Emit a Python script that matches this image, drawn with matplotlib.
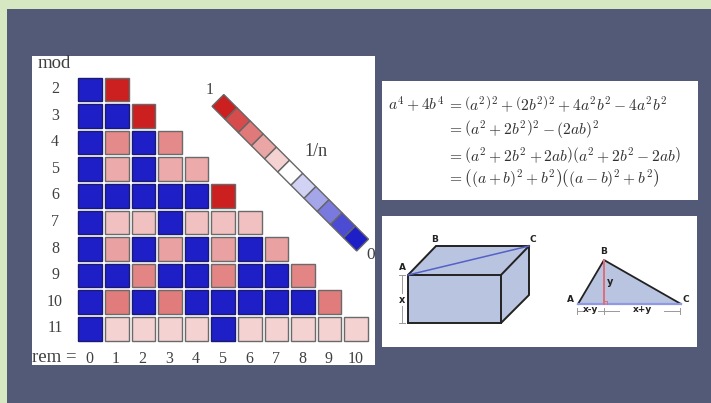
import matplotlib
matplotlib.use("Agg")
import matplotlib.pyplot as plt
from matplotlib.colors import LinearSegmentedColormap
from matplotlib.patches import Rectangle, Polygon

# colour level per remainder, one row per modulus (0 blue, .5 white, 1 red)
moduli = [2, 3, 4, 5, 6, 7, 8, 9, 10, 11]
levels = [
    [0.0, 1.0],
    [0.0, 0.0, 1.0],
    [0.0, .76, 0.0, .76],
    [0.0, .69, 0.0, .69, .69],
    [0.0, 0.0, 0.0, 0.0, 0.0, 1.0],
    [0.0, .64, .64, 0.0, .64, .64, .64],
    [0.0, .71, 0.0, .71, 0.0, .71, 0.0, .71],
    [0.0, 0.0, .77, 0.0, 0.0, .77, 0.0, 0.0, .77],
    [0.0, .79, 0.0, .79, 0.0, 0.0, 0.0, 0.0, 0.0, .79],
    [0.0, .6, .6, .6, .6, 0.0, .6, .6, .6, .6, .6],
]
rem_labels = ["0", "1", "2", "3", "4", "5", "6", "7", "8", "9", "10"]
scale_levels = [1.0, .9, .8, .7, .6, .5, .4, .3, .2, .1, 0.0]

equation_left = r"$a^4+4b^4$"
equation_lines = [
    r"$=\left(a^2\right)^2+\left(2b^2\right)^2+4a^2b^2-4a^2b^2$",
    r"$=\left(a^2+2b^2\right)^2-(2ab)^2$",
    r"$=\left(a^2+2b^2+2ab\right)\left(a^2+2b^2-2ab\right)$",
    r"$=\left((a+b)^2+b^2\right)\left((a-b)^2+b^2\right)$",
]

GREEN = "#d6e8c2"
SLATE = "#535a78"
FILL = "#b9c4e0"
INK = "#222222"
SERIF = "Liberation Serif"

cmap = LinearSegmentedColormap.from_list("rem", ["#1f1fc8", "#ffffff", "#cc1f1f"])

plt.rcParams["mathtext.fontset"] = "cm"

fig = plt.figure(figsize=(7.11, 4.03), dpi=100, facecolor=GREEN)
ax = fig.add_axes([0, 0, 1, 1])
ax.set_xlim(0, 711)
ax.set_ylim(403, 0)
ax.axis("off")

ax.add_patch(Rectangle((7, 9), 704, 394, fc=SLATE, ec="none"))
panel = Rectangle((32, 56), 343, 309, fc="white", ec="none", zorder=1)
ax.add_patch(panel)
ax.add_patch(Rectangle((382, 81), 316, 119, fc="white", ec="none", zorder=1))
ax.add_patch(Rectangle((382, 216), 315, 131, fc="white", ec="none", zorder=1))


def label(x, y, s, size=11.5, color="#404040", ha="center", **kw):
    t = ax.text(x, y, s, fontsize=size, color=color, ha=ha, va="center",
                family=SERIF, zorder=5, **kw)
    t.set_clip_path(panel)
    return t


# ── Remainder grid ────────────────────────────────────────────────────────────
PITCH = 26.6
SIDE = 23.6
for r, (mod, row) in enumerate(zip(moduli, levels)):
    y = 77.5 + r * PITCH
    label(55, y + 11.5, str(mod))
    for c, v in enumerate(row):
        edge = "#1a1a70" if v == 0.0 else "#6a6a6a"
        ax.add_patch(Rectangle((78.3 + c * PITCH, y), SIDE, SIDE, fc=cmap(v),
                               ec=edge, lw=1.0, zorder=3))

label(54, 63, "mod", size=13.5)
label(32, 358, "rem =", size=13.5, ha="left")
for c, s in enumerate(rem_labels):
    label(89.5 + c * PITCH, 359, s)

# ── Diagonal colour scale ─────────────────────────────────────────────────────
STEP = 13.15
WIDE = 5.9
for i, v in enumerate(scale_levels):
    cx, cy = 224.5 + i * STEP, 107 + i * STEP
    a = STEP / 2
    ax.add_patch(Polygon([(cx - a - WIDE, cy - a + WIDE), (cx - a + WIDE, cy - a - WIDE),
                          (cx + a + WIDE, cy + a - WIDE), (cx + a - WIDE, cy + a + WIDE)],
                         closed=True, fc=cmap(v), ec="#666666", lw=1.0, zorder=3))
label(210, 90, "1")
label(316, 152, "1/n", size=13)
label(371, 255, "0", size=12.5)

# ── Algebra ───────────────────────────────────────────────────────────────────
EQ_SIZE = 11.2
ax.text(388, 104, equation_left, fontsize=EQ_SIZE, color="#303030", va="center", zorder=5)
for y, s in zip([104, 129.5, 155, 178], equation_lines):
    ax.text(447, y, s, fontsize=EQ_SIZE, color="#303030", va="center", zorder=5)


def tag(x, y, s, size=6.5):
    ax.text(x, y, s, fontsize=size, color=INK, ha="center", va="center",
            family="DejaVu Sans", fontweight="bold", zorder=6)


# ── Box ───────────────────────────────────────────────────────────────────────
ax.add_patch(Polygon([(408, 275), (436, 246), (529, 246), (529, 295), (501, 323), (408, 323)],
                     closed=True, fc=FILL, ec=INK, lw=1.4, zorder=3))
ax.plot([408, 501, 529], [275, 275, 246], color=INK, lw=1.4, zorder=4)
ax.plot([501, 501], [275, 323], color=INK, lw=1.4, zorder=4)
ax.plot([408, 529], [275, 246], color="#5560c8", lw=1.1, zorder=5)
ax.plot([398.5, 404.5], [275, 275], color="#999999", lw=0.7, zorder=4)
ax.plot([398.5, 404.5], [322.5, 322.5], color="#999999", lw=0.7, zorder=4)
ax.plot([401.5, 401.5], [275, 293], color="#999999", lw=0.7, zorder=4)
ax.plot([401.5, 401.5], [306, 322.5], color="#999999", lw=0.7, zorder=4)
tag(402, 268, "A")
tag(434.5, 239, "B")
tag(533, 240, "C")
tag(401.5, 300, "x", 7)

# ── Triangle ──────────────────────────────────────────────────────────────────
ax.add_patch(Polygon([(578, 304), (604, 260), (681, 304)], closed=True, fc=FILL, ec="none", zorder=3))
ax.plot([578, 604, 681], [304, 260, 304], color=INK, lw=1.3, zorder=4)
ax.plot([578, 681], [304, 304], color="#8f9ae4", lw=1.6, zorder=4)
ax.plot([604, 604], [260, 304], color="#e06c78", lw=1.4, zorder=5)
ax.plot([604, 607, 607], [301, 301, 304], color="#e06c78", lw=0.7, zorder=5)
for x0, x1 in [(577, 584), (598, 619), (664, 680)]:
    ax.plot([x0, x1], [311, 311], color="#999999", lw=0.7, zorder=4)
for x in [577, 604, 680]:
    ax.plot([x, x], [308, 314], color="#999999", lw=0.7, zorder=4)
tag(570, 299, "A")
tag(604, 252, "B")
tag(685.5, 299, "C")
tag(610, 282, "y", 7)
tag(591, 310, "x-y")
tag(642, 310, "x+y")

fig.savefig("out.png", dpi=100, facecolor=fig.get_facecolor())
